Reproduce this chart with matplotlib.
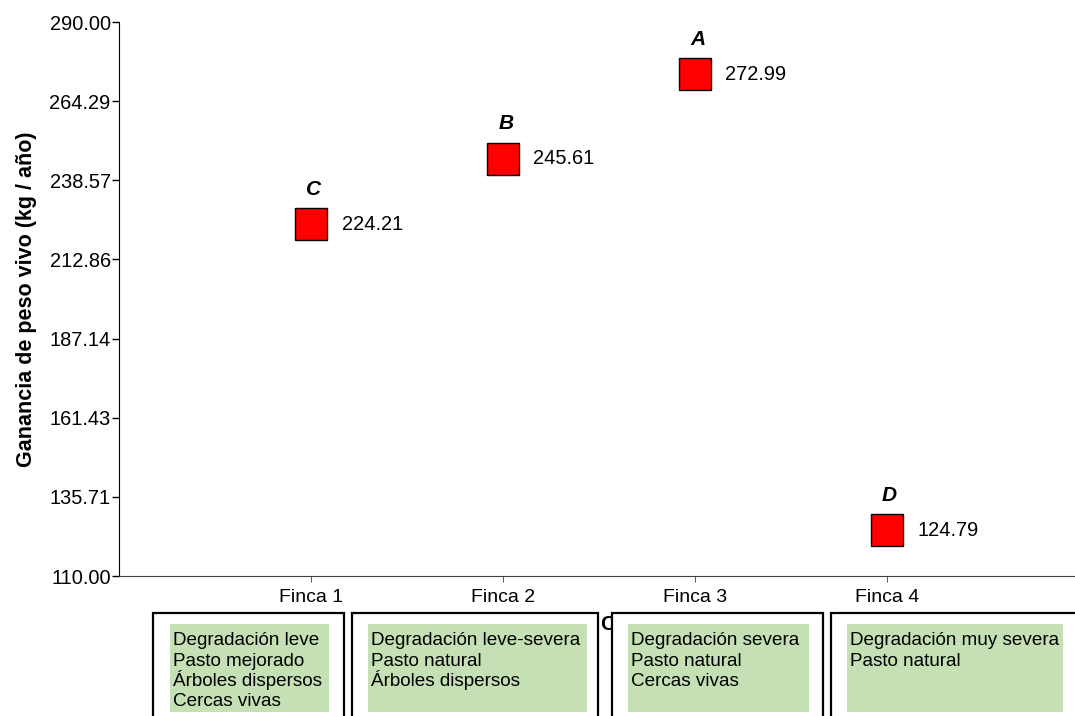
import matplotlib.pyplot as plt
from matplotlib.patches import Rectangle

plt.rcParams['font.family'] = ['Liberation Sans', 'DejaVu Sans']

fincas = ["Finca 1", "Finca 2", "Finca 3", "Finca 4"]
ganancia = [224.21, 245.61, 272.99, 124.79]
letras = ["C", "B", "A", "D"]
yticks = [110.00, 135.71, 161.43, 187.14, 212.86, 238.57, 264.29, 290.00]
descripciones = [
    ["Degradación leve", "Pasto mejorado", "Árboles dispersos", "Cercas vivas"],
    ["Degradación leve-severa", "Pasto natural", "Árboles dispersos"],
    ["Degradación severa", "Pasto natural", "Cercas vivas"],
    ["Degradación muy severa", "Pasto natural"],
]

W, H = 1075, 716
fig = plt.figure(figsize=(W / 100, H / 100), dpi=100)
ax = fig.add_axes([119 / W, (H - 576) / H, (W - 119) / W, (576 - 22) / H])

x = list(range(1, len(fincas) + 1))
ax.plot(x, ganancia, linestyle='none', marker='s', markersize=23,
        markerfacecolor='#ff0000', markeredgecolor='black', markeredgewidth=1)

for xi, v, l in zip(x, ganancia, letras):
    ax.annotate(f"{v:.2f}", (xi, v), xytext=(22, 0), textcoords='offset points',
                va='center', ha='left', fontsize=14.4)
    ax.annotate(l, (xi, v), xytext=(2, 25), textcoords='offset points',
                va='center', ha='center', fontsize=15, fontweight='bold', style='italic')

ax.set_xlim(0, 4.98)
ax.set_ylim(110, 290)
ax.set_yticks(yticks)
ax.set_yticklabels([f"{t:.2f}" for t in yticks])
ax.set_xticks(x)
ax.set_xticklabels(fincas)
ax.tick_params(axis='x', length=4, width=0.6, color='#404040', pad=5, labelsize=14)
ax.tick_params(axis='y', length=5, width=1, pad=1, labelsize=14.4)
ax.spines['top'].set_visible(False)
ax.spines['right'].set_visible(False)
ax.spines['bottom'].set_color('#404040')
ax.set_ylabel("Ganancia de peso vivo (kg / año)", fontsize=15.5, fontweight='bold', labelpad=9)

def px(x0, y0, x1, y1):
    return (x0 / W, (H - y1) / H), (x1 - x0) / W, (y1 - y0) / H

# letra recortada detras de la caja 3
fig.text(600 / W, 1 - 624 / H, "C", fontsize=15, fontweight='bold', va='center', ha='left', zorder=1)

frames = [(153, 344), (352, 598), (612, 823), (831, 1085)]
greens = [(170, 329), (368, 587), (628, 809), (847, 1063)]
for (f0, f1), (g0, g1), lines in zip(frames, greens, descripciones):
    xy, w, h = px(f0, 613, f1, 730)
    fig.patches.append(Rectangle(xy, w, h, transform=fig.transFigure, facecolor='white',
                                 edgecolor='black', linewidth=1.6, zorder=2))
    xy, w, h = px(g0, 624, g1, 712)
    fig.patches.append(Rectangle(xy, w, h, transform=fig.transFigure, facecolor='#c5e0b4',
                                 edgecolor='none', zorder=3))
    for i, line in enumerate(lines):
        fig.text((g0 + 3) / W, 1 - (645 + 20.5 * i) / H, line, fontsize=13.6,
                 va='baseline', ha='left', zorder=4)

fig.savefig("out.png", dpi=100)
